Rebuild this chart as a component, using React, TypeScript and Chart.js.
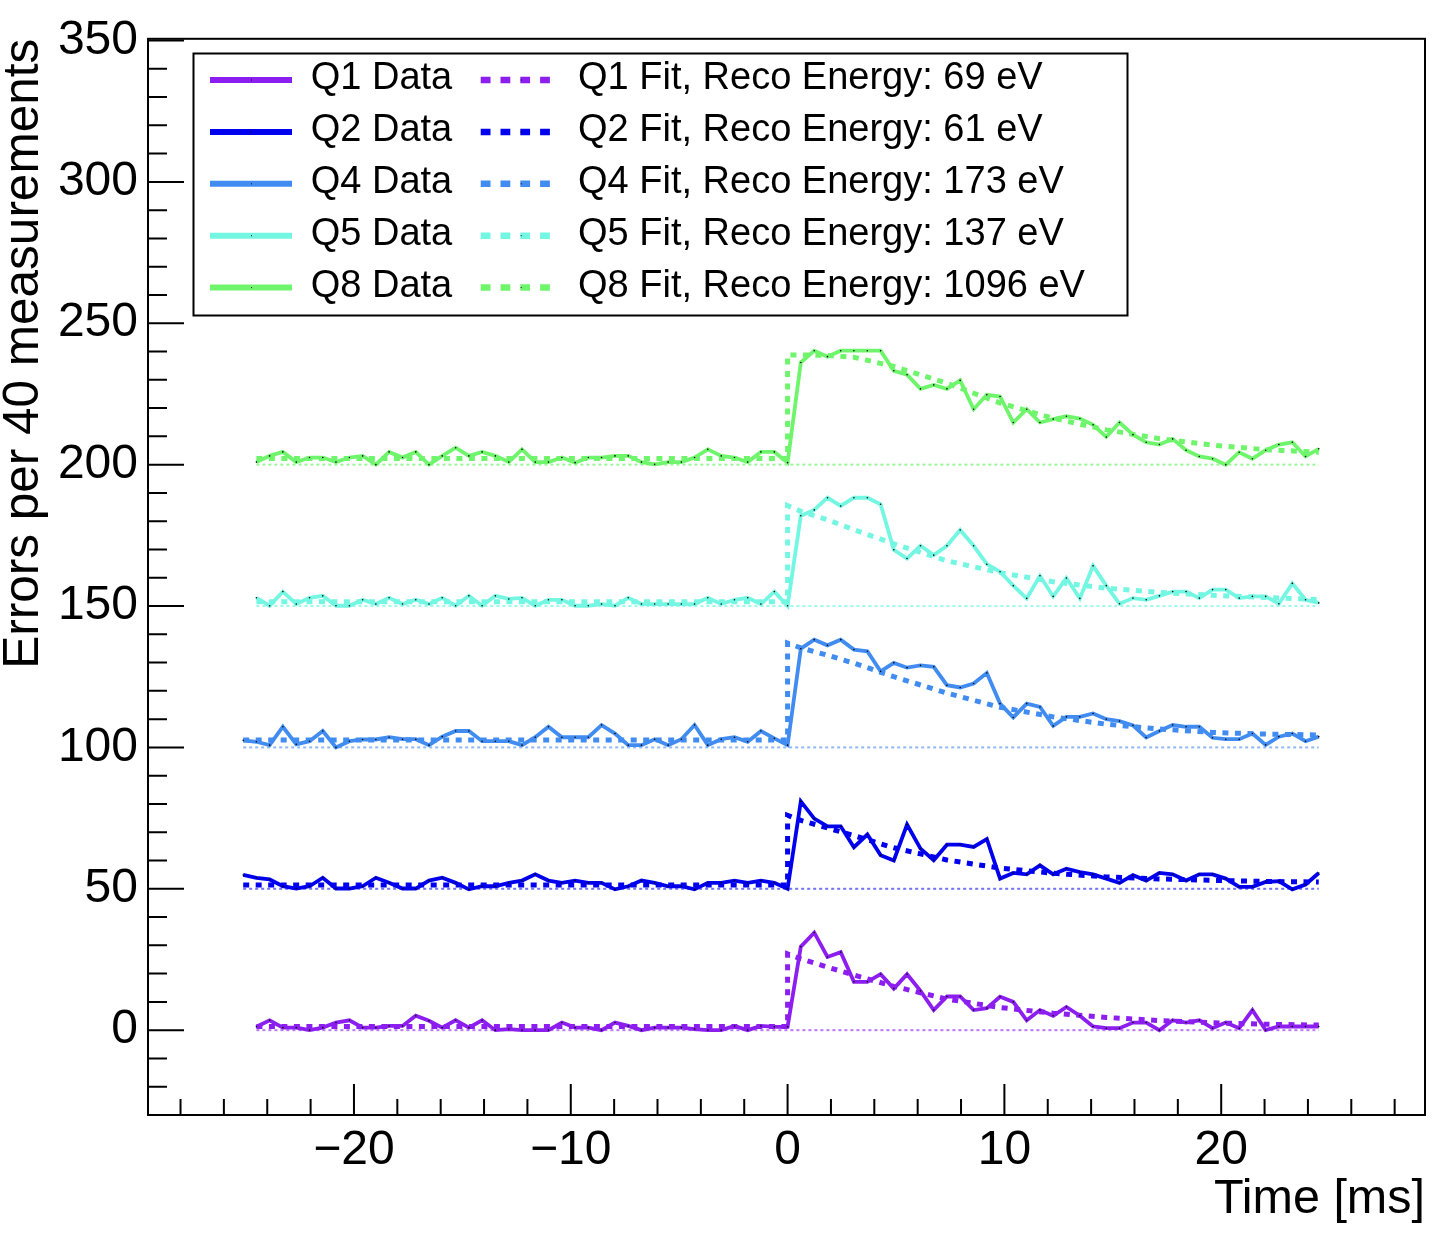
import React, { useEffect, useRef } from "react";
import { Chart, registerables } from "chart.js";

Chart.register(...registerables);

// ---------------- data ----------------
const SERIES_NAMES = ["Q1", "Q2", "Q4", "Q5", "Q8"];
const SERIES_COLORS = ["#8c1ef0", "#0000ee", "#418cf0", "#73f7e2", "#6ff56c"];
const BASELINE_COLORS = [
  "rgba(140,30,240,0.6)",
  "rgba(0,0,238,0.55)",
  "rgba(65,140,240,0.6)",
  "rgba(115,247,226,0.7)",
  "rgba(111,245,108,0.7)",
];
const RECO_ENERGY_EV = [69, 61, 173, 137, 1096];
const SERIES_OFFSETS = [0, 50, 100, 150, 200];

// sample times [ms]
const TIME = [
  -24.5, -23.89, -23.28, -22.66, -22.05, -21.44, -20.83, -20.21, -19.6, -18.99,
  -18.38, -17.76, -17.15, -16.54, -15.93, -15.31, -14.7, -14.09, -13.48, -12.86,
  -12.25, -11.64, -11.03, -10.41, -9.8, -9.19, -8.58, -7.96, -7.35, -6.74,
  -6.13, -5.51, -4.9, -4.29, -3.68, -3.06, -2.45, -1.84, -1.23, -0.61,
  0.0, 0.61, 1.23, 1.84, 2.45, 3.06, 3.68, 4.29, 4.9, 5.51,
  6.13, 6.74, 7.35, 7.96, 8.58, 9.19, 9.8, 10.41, 11.03, 11.64,
  12.25, 12.86, 13.48, 14.09, 14.7, 15.31, 15.93, 16.54, 17.15, 17.76,
  18.38, 18.99, 19.6, 20.21, 20.83, 21.44, 22.05, 22.66, 23.28, 23.89,
  24.5,
];
// Q2 and Q4 have one extra leading sample
const TIME_EARLY = [-25.11, ...TIME];

const Q1_DATA = [
  1.2, 3.5, 0.9, 0.9, 0.0, 0.9, 2.7, 3.5, 0.9, 0.9,
  1.5, 1.5, 5.1, 3.3, 0.9, 3.5, 0.9, 3.5, 0.0, 0.4,
  0.0, 0.0, 0.0, 2.7, 0.9, 0.9, 0.0, 2.7, 1.5, 0.0,
  0.9, 0.9, 0.9, 0.4, 0.0, 0.0, 1.5, 0.0, 1.5, 1.2,
  1.2, 29.5, 34.5, 25.9, 27.6, 17.1, 17.1, 19.8, 14.7, 19.8,
  13.9, 7.1, 11.9, 11.9, 7.1, 7.8, 11.8, 10.0, 3.5, 7.1,
  5.1, 8.2, 5.1, 1.3, 0.7, 0.7, 2.7, 2.7, 0.0, 3.5,
  2.7, 3.5, 0.7, 2.7, 0.7, 7.1, 0.0, 1.3, 1.3, 1.3,
  1.3,
];
const Q2_DATA = [
  54.9,
  53.9, 53.3, 50.9, 50.1, 50.9, 53.9, 50.1, 50.1, 50.9, 53.9,
  52.1, 50.1, 50.1, 52.9, 53.9, 52.1, 49.8, 50.9, 50.9, 52.1,
  52.9, 55.1, 52.9, 52.1, 52.9, 52.1, 52.1, 49.8, 50.9, 52.9,
  52.1, 50.9, 50.9, 49.8, 52.1, 52.1, 52.9, 52.1, 52.9, 52.1,
  50.0, 80.9, 74.8, 72.1, 72.1, 64.7, 69.2, 61.9, 60.0, 72.7,
  64.2, 60.1, 65.6, 65.6, 64.8, 67.6, 53.6, 55.6, 55.1, 58.3,
  55.1, 57.1, 55.9, 55.1, 53.6, 52.1, 54.8, 52.9, 55.6, 55.1,
  52.9, 55.1, 55.1, 53.6, 50.7, 50.7, 52.4, 52.7, 49.8, 51.5,
  55.6,
];
const Q4_DATA = [
  102.5,
  102.0, 100.8, 107.3, 101.1, 102.2, 105.8, 100.0, 102.2, 102.8, 102.8,
  103.6, 102.9, 102.9, 100.8, 103.8, 105.8, 105.8, 102.2, 102.2, 102.2,
  100.8, 103.6, 107.3, 103.6, 103.6, 103.6, 107.9, 104.9, 100.8, 100.8,
  102.9, 100.8, 102.9, 107.9, 100.8, 102.9, 103.6, 102.0, 105.8, 103.2,
  100.8, 134.9, 138.1, 136.1, 138.1, 134.6, 134.0, 126.9, 129.9, 128.2,
  129.0, 128.5, 122.0, 121.2, 122.6, 126.3, 115.5, 110.6, 115.5, 114.3,
  107.6, 110.8, 110.8, 112.0, 110.0, 109.3, 107.8, 103.5, 105.8, 107.9,
  107.3, 107.3, 103.4, 102.9, 102.9, 104.9, 100.9, 103.8, 104.9, 102.2,
  103.8,
];
const Q5_DATA = [
  152.9, 150.1, 155.1, 150.7, 152.9, 153.6, 150.1, 150.1, 152.2, 150.7,
  152.9, 150.7, 152.2, 150.7, 152.9, 150.1, 153.6, 150.1, 153.6, 152.5,
  152.9, 150.1, 152.2, 152.2, 150.1, 150.1, 150.7, 150.1, 152.9, 150.7,
  150.7, 150.7, 150.7, 150.7, 152.9, 150.7, 152.2, 152.9, 150.7, 155.1,
  150.1, 181.9, 184.0, 188.3, 185.4, 188.3, 188.3, 186.0, 169.9, 166.8,
  171.3, 168.0, 171.3, 176.9, 171.3, 164.8, 162.1, 157.2, 152.7, 160.7,
  153.4, 159.9, 152.7, 164.2, 157.2, 150.8, 152.8, 152.2, 153.6, 155.1,
  155.1, 152.8, 155.8, 155.8, 152.8, 153.4, 153.4, 150.8, 158.0, 152.2,
  151.1,
];
const Q8_DATA = [
  200.9, 203.1, 204.5, 200.9, 202.5, 202.5, 200.9, 202.5, 203.1, 200.0,
  204.5, 202.5, 204.5, 200.0, 203.1, 206.0, 203.1, 204.5, 203.1, 200.9,
  205.4, 200.9, 200.9, 202.5, 200.7, 202.5, 202.5, 203.1, 203.1, 200.9,
  200.1, 200.9, 200.9, 202.5, 205.4, 203.1, 202.5, 200.9, 204.5, 204.5,
  200.7, 236.1, 240.3, 238.2, 240.3, 240.3, 240.3, 240.3, 233.2, 231.8,
  226.8, 228.2, 226.8, 229.8, 219.6, 224.7, 224.1, 214.9, 219.6, 214.9,
  216.1, 217.1, 216.3, 214.1, 209.8, 214.9, 210.6, 207.9, 207.1, 209.1,
  205.1, 202.9, 202.1, 200.0, 204.4, 202.1, 205.1, 207.1, 207.9, 202.9,
  205.6,
];

// fit curves: constant level before t = 0, decay after
const FIT_BASE = [1.3, 51.3, 102.6, 151.5, 202.2];
const FIT_TIME = [0, 0.61, 1.84, 3.06, 4.9, 7.35, 9.8, 12.25, 14.7, 17.15, 19.6, 22.05, 24.5];
const Q1_FIT = [27.0, 25.2, 22.3, 19.5, 15.5, 11.0, 8.0, 6.0, 4.5, 3.4, 2.6, 2.1, 1.8];
const Q2_FIT = [76.0, 74.2, 71.5, 68.8, 64.5, 60.2, 57.3, 55.5, 54.2, 53.5, 53.0, 52.6, 52.4];
const Q4_FIT = [136.9, 135.2, 132.6, 129.8, 125.0, 119.2, 114.2, 110.8, 108.2, 106.5, 105.3, 104.7, 104.4];
const Q5_FIT = [185.5, 183.5, 180.5, 177.0, 172.0, 166.0, 161.8, 158.6, 156.3, 154.8, 153.8, 153.0, 152.3];
const Q8_FIT = [238.8, 238.8, 238.6, 238.0, 234.7, 228.8, 221.8, 216.4, 212.3, 209.2, 206.9, 205.3, 204.4];

const X_TICKS = [-20, -10, 0, 10, 20];
const Y_TICKS = [0, 50, 100, 150, 200, 250, 300, 350];
const X_MIN = -29.5;
const X_MAX = 29.4;
const Y_MIN = -30;
const Y_MAX = 350.6;
const X_MINOR_STEP = 2;
const Y_MINOR_STEP = 10;

const X_TITLE = "Time [ms]";
const Y_TITLE = "Errors per 40 measurements";

// ---------------- styling / layout ----------------
const FONT = "'Liberation Sans', Arial, Helvetica, sans-serif";
const W = 1448;
const H = 1236;
const LEGEND = {
  x: 193.5,
  y: 53.5,
  w: 934,
  h: 262,
  row0: 80,
  rowGap: 51.9,
  sample1: [210, 292],
  text1: 310.7,
  sample2: [480.7, 550],
  text2: 578,
  fontSize: 38,
};

const fmtTick = (v: number) => (v < 0 ? "\u2212" + Math.abs(v) : String(v));

const frameAndTicksPlugin = {
  id: "frameAndTicks",
  afterDraw(chart: any) {
    const { ctx, chartArea } = chart;
    const xs = chart.scales.x;
    const ys = chart.scales.y;
    const { left, right, top, bottom } = chartArea;
    ctx.save();
    ctx.strokeStyle = "#000";
    ctx.lineWidth = 2;
    ctx.setLineDash([]);
    ctx.beginPath();
    // x ticks (inward, from the bottom edge)
    for (let v = Math.ceil(X_MIN / X_MINOR_STEP) * X_MINOR_STEP; v <= X_MAX; v += X_MINOR_STEP) {
      const px = xs.getPixelForValue(v);
      const len = X_TICKS.includes(v) ? 31 : 16;
      ctx.moveTo(px, bottom);
      ctx.lineTo(px, bottom - len);
    }
    // y ticks (inward, from the left edge)
    for (let v = Math.ceil(Y_MIN / Y_MINOR_STEP) * Y_MINOR_STEP; v <= Y_MAX; v += Y_MINOR_STEP) {
      if (v <= Y_MIN) continue;
      const py = ys.getPixelForValue(v);
      const len = Y_TICKS.includes(v) ? 36 : 19;
      ctx.moveTo(left, py);
      ctx.lineTo(left + len, py);
    }
    ctx.stroke();
    ctx.strokeRect(left, top, right - left, bottom - top);
    ctx.restore();
  },
};

const legendPlugin = {
  id: "rootLegend",
  afterDraw(chart: any) {
    const ctx = chart.ctx;
    ctx.save();
    ctx.fillStyle = "#fff";
    ctx.fillRect(LEGEND.x, LEGEND.y, LEGEND.w, LEGEND.h);
    ctx.strokeStyle = "#000";
    ctx.lineWidth = 2;
    ctx.setLineDash([]);
    ctx.strokeRect(LEGEND.x, LEGEND.y, LEGEND.w, LEGEND.h);
    ctx.font = `${LEGEND.fontSize}px ${FONT}`;
    ctx.textBaseline = "middle";
    ctx.textAlign = "left";
    SERIES_NAMES.forEach((name, k) => {
      const y = LEGEND.row0 + k * LEGEND.rowGap;
      ctx.lineCap = "butt";
      ctx.strokeStyle = SERIES_COLORS[k];
      ctx.setLineDash([]);
      ctx.lineWidth = 6;
      ctx.beginPath();
      ctx.moveTo(LEGEND.sample1[0], y);
      ctx.lineTo(LEGEND.sample1[1], y);
      ctx.stroke();
      ctx.setLineDash([9.8, 10]);
      ctx.lineWidth = 6.5;
      ctx.beginPath();
      ctx.moveTo(LEGEND.sample2[0], y);
      ctx.lineTo(LEGEND.sample2[1], y);
      ctx.stroke();
      ctx.setLineDash([]);
      ctx.fillStyle = "#000";
      ctx.fillRect((LEGEND.sample1[0] + LEGEND.sample1[1]) / 2, y - 0.5, 1, 1);
      ctx.fillRect(LEGEND.sample2[0] + 40, y - 0.5, 1, 1);
      ctx.fillText(`${name} Data`, LEGEND.text1, y - 1.5);
      ctx.fillText(`${name} Fit, Reco Energy: ${RECO_ENERGY_EV[k]} eV`, LEGEND.text2, y - 1.5);
    });
    ctx.restore();
  },
};

export default function App() {
  const canvasRef = useRef<HTMLCanvasElement | null>(null);

  useEffect(() => {
    document.body.style.margin = "0";
    document.body.style.overflow = "hidden";
    const canvas = canvasRef.current;
    if (!canvas) return;

    const series = [
      { times: TIME, data: Q1_DATA, fit: Q1_FIT },
      { times: TIME_EARLY, data: Q2_DATA, fit: Q2_FIT },
      { times: TIME_EARLY, data: Q4_DATA, fit: Q4_FIT },
      { times: TIME, data: Q5_DATA, fit: Q5_FIT },
      { times: TIME, data: Q8_DATA, fit: Q8_FIT },
    ];

    const datasets: any[] = [];
    series.forEach((s, k) => {
      const name = SERIES_NAMES[k];
      const color = SERIES_COLORS[k];
      const tStart = s.times[0];
      const tEnd = s.times[s.times.length - 1];
      datasets.push({
        label: `${name} Data`,
        data: s.times.map((t, i) => ({ x: t, y: s.data[i] })),
        borderColor: color,
        backgroundColor: color,
        borderWidth: 3.8,
        pointRadius: 0.8,
        pointBackgroundColor: "#000",
        pointBorderWidth: 0,
        pointHoverRadius: 0,
        tension: 0,
        fill: false,
        order: 0,
      });
      datasets.push({
        label: `${name} Fit, Reco Energy: ${RECO_ENERGY_EV[k]} eV`,
        data: [
          { x: tStart, y: FIT_BASE[k] },
          { x: 0, y: FIT_BASE[k] },
          ...FIT_TIME.map((t, j) => ({ x: t, y: s.fit[j] })),
        ],
        borderColor: color,
        backgroundColor: color,
        borderWidth: 5,
        borderDash: [6, 6.5],
        borderCapStyle: "butt",
        pointRadius: 0,
        pointHoverRadius: 0,
        tension: 0,
        fill: false,
        order: 1,
      });
      datasets.push({
        label: `${name} zero line`,
        data: [
          { x: tStart, y: SERIES_OFFSETS[k] },
          { x: tEnd, y: SERIES_OFFSETS[k] },
        ],
        borderColor: BASELINE_COLORS[k],
        borderWidth: 2,
        borderDash: [3, 3],
        pointRadius: 0,
        pointHoverRadius: 0,
        fill: false,
        order: 2,
      });
    });

    const chart = new Chart(canvas, {
      type: "line",
      data: { datasets },
      options: {
        responsive: false,
        animation: false,
        events: [],
        layout: { padding: { top: 36, right: 23, bottom: 0, left: 0 } },
        plugins: {
          legend: { display: false },
          tooltip: { enabled: false },
          title: { display: false },
        },
        scales: {
          x: {
            type: "linear",
            min: X_MIN,
            max: X_MAX,
            afterBuildTicks: (scale: any) => {
              scale.ticks = X_TICKS.map((v) => ({ value: v }));
            },
            afterFit: (scale: any) => {
              scale.height = H - 1115;
            },
            grid: { display: false, drawTicks: false },
            border: { display: false },
            ticks: {
              autoSkip: false,
              maxRotation: 0,
              color: "#000",
              padding: 7,
              font: { family: FONT, size: 48, lineHeight: 1.2 },
              callback: (v: any) => fmtTick(Number(v)),
            },
            title: {
              display: true,
              text: X_TITLE,
              align: "end",
              color: "#000",
              font: { family: FONT, size: 48.5, lineHeight: 1 },
              padding: { top: 0, bottom: 12 },
            },
          },
          y: {
            type: "linear",
            min: Y_MIN,
            max: Y_MAX,
            afterBuildTicks: (scale: any) => {
              scale.ticks = Y_TICKS.map((v) => ({ value: v }));
            },
            afterFit: (scale: any) => {
              scale.width = 148;
            },
            grid: { display: false, drawTicks: false },
            border: { display: false },
            ticks: {
              autoSkip: false,
              color: "#000",
              padding: 10,
              font: { family: FONT, size: 48, lineHeight: 1.2 },
              callback: (v: any) => fmtTick(Number(v)),
            },
            title: {
              display: true,
              text: Y_TITLE,
              align: "end",
              color: "#000",
              font: { family: FONT, size: 49.5, lineHeight: 1 },
              padding: { top: 0, bottom: 0 },
            },
          },
        },
      } as any,
      plugins: [frameAndTicksPlugin, legendPlugin],
    });

    return () => {
      chart.destroy();
    };
  }, []);

  return (
    <canvas
      ref={canvasRef}
      width={W}
      height={H}
      style={{ display: "block", width: `${W}px`, height: `${H}px` }}
    />
  );
}
